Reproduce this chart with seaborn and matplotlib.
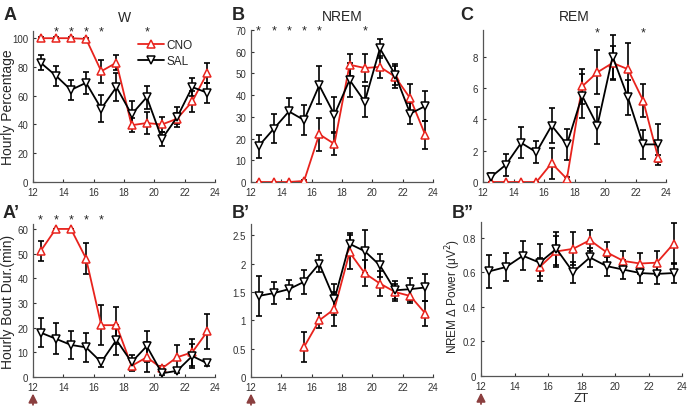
import numpy as np
import pandas as pd
import matplotlib
matplotlib.use('Agg')
import matplotlib.pyplot as plt
import seaborn as sns

zt = [12.5, 13.5, 14.5, 15.5, 16.5, 17.5, 18.5, 19.5, 20.5, 21.5, 22.5, 23.5]
nan = np.nan

# W hourly percentage
w_cno = [100, 100, 100, 99.5, 77, 83, 39.5, 41, 40, 44, 56, 76]
w_cno_err = [0.5, 0.5, 0.5, 0.8, 8, 5, 5, 7.5, 5, 4, 7, 7]
w_sal = [83, 74, 64, 69, 51, 66, 47, 59, 30, 45, 66, 62]
w_sal_err = [5, 7, 7, 7.5, 9.5, 10, 9.5, 8, 5, 7, 6, 7]

# NREM hourly percentage
n_cno = [0, 0, 0, 0.5, 22, 17.5, 54, 52.5, 53, 48.5, 38.5, 21.5]
n_cno_err = [0, 0, 0, 0.3, 7.5, 5, 5, 6.5, 5, 5, 6.5, 6.5]
n_sal = [16.5, 24.5, 32.5, 28.5, 44.5, 31, 47, 37, 61.5, 49.5, 31.5, 35]
n_sal_err = [5.3, 6.7, 6.3, 7, 8.7, 8, 8, 7, 4.5, 5, 5, 7]

# REM hourly percentage
r_cno = [0, 0, 0, 0, 1.2, 0.2, 6.1, 7.0, 7.6, 7.2, 5.2, 1.5]
r_cno_err = [0, 0, 0, 0, 1, 0.1, 1.1, 1.4, 1.1, 1.7, 1.05, 0.2]
r_sal = [0.3, 1.1, 2.5, 1.9, 3.6, 2.4, 5.5, 3.6, 8.0, 5.4, 2.4, 2.4]
r_sal_err = [0.3, 0.7, 1, 0.7, 1.1, 1, 1.4, 1.2, 1.4, 1.1, 0.95, 1.3]

# W bout duration
wb_cno = [51, 60, 60, 48, 21, 21, 4.5, 8, 3.5, 8, 10, 18.5]
wb_cno_err = [4, 0, 0, 6.3, 8, 7.5, 2, 6, 1, 5, 5.5, 7]
wb_sal = [18, 15.5, 13, 12, 6, 15, 6, 12.5, 1.5, 2.5, 8.5, 5.5]
wb_sal_err = [5.8, 6.3, 5.7, 6, 1.8, 6, 2.8, 6.3, 0.5, 1, 5, 1.2]

# NREM bout duration
nb_cno = [nan, nan, nan, 0.53, 1.0, 1.2, 2.2, 1.83, 1.65, 1.5, 1.43, 1.12]
nb_cno_err = [nan, nan, nan, 0.27, 0.13, 0.3, 0.3, 0.23, 0.22, 0.15, 0.13, 0.22]
nb_sal = [1.43, 1.48, 1.55, 1.68, 2.0, 1.37, 2.35, 2.22, 1.97, 1.53, 1.55, 1.58]
nb_sal_err = [0.36, 0.19, 0.17, 0.21, 0.15, 0.27, 0.2, 0.38, 0.2, 0.16, 0.2, 0.23]

# NREM delta power
d_cno = [nan, nan, nan, 0.63, 0.72, 0.735, 0.785, 0.715, 0.665, 0.65, 0.655, 0.765]
d_cno_err = [nan, nan, nan, 0.05, 0.09, 0.095, 0.06, 0.06, 0.055, 0.06, 0.07, 0.12]
d_sal = [0.605, 0.63, 0.695, 0.655, 0.735, 0.6, 0.685, 0.635, 0.615, 0.595, 0.59, 0.595]
d_sal_err = [0.095, 0.08, 0.085, 0.105, 0.095, 0.06, 0.055, 0.055, 0.055, 0.055, 0.06, 0.06]

sns.set_style('ticks')
plt.rcParams['font.family'] = ['Liberation Sans', 'DejaVu Sans']

fig = plt.figure(figsize=(6.88, 4.10), dpi=100)
W, H = 688, 410


def px_axes(left, right, top, bottom):
    return fig.add_axes([left / W, 1 - bottom / H, (right - left) / W, (bottom - top) / H])


def draw(ax, cno, cno_err, sal, sal_err, ylim, yticks, ytl=None, legend=False):
    df = pd.DataFrame({'zt': zt, 'cno': cno, 'cno_err': cno_err,
                       'sal': sal, 'sal_err': sal_err})
    ax.errorbar(df['zt'], df['sal'], yerr=df['sal_err'], fmt='none', ecolor='black',
                elinewidth=1.2, capsize=2.5, capthick=1.2, zorder=2)
    ax.errorbar(df['zt'], df['cno'], yerr=df['cno_err'], fmt='none', ecolor='black',
                elinewidth=1.2, capsize=2.5, capthick=1.2, zorder=2)
    sns.lineplot(data=df, x='zt', y='cno', ax=ax, color='#e8231d', marker='^',
                 markersize=6, markerfacecolor='white', markeredgecolor='#e8231d',
                 markeredgewidth=1.1, linewidth=1.3, label='CNO', zorder=3)
    sns.lineplot(data=df, x='zt', y='sal', ax=ax, color='black', marker='v',
                 markersize=6, markerfacecolor='white', markeredgecolor='black',
                 markeredgewidth=1.1, linewidth=1.3, label='SAL', zorder=4)
    ax.set_xlim(12, 24)
    ax.set_xticks([12, 14, 16, 18, 20, 22, 24])
    ax.set_ylim(*ylim)
    ax.set_yticks(yticks)
    if ytl is not None:
        ax.set_yticklabels(ytl)
    ax.set_xlabel('')
    ax.set_ylabel('')
    ax.tick_params(direction='in', length=2.5, labelsize=7, colors='#333333', width=0.8)
    for s in ['left', 'bottom']:
        ax.spines[s].set_color('#555555')
        ax.spines[s].set_linewidth(0.9)
    sns.despine(ax=ax)
    if legend:
        ax.legend(loc='upper right', bbox_to_anchor=(0.92, 1.0), frameon=False,
                  fontsize=8.5, handlelength=2.2, handletextpad=0.2, borderpad=0.2,
                  labelspacing=0.35)
    else:
        ax.get_legend().remove()


def stars(ax, xs, y):
    for x in xs:
        ax.text(x, y, '*', ha='center', va='center', fontsize=9, clip_on=False)


axA = px_axes(33, 215, 32, 183)
draw(axA, w_cno, w_cno_err, w_sal, w_sal_err, (0, 105), [0, 20, 40, 60, 80, 100], legend=True)
stars(axA, [13.5, 14.5, 15.5, 16.5, 19.5], 105)
axA.set_title('W', fontsize=10, pad=7)
axA.set_ylabel('Hourly Percentage', fontsize=10)
axA.yaxis.set_label_coords(-0.1, 0.5)

axB = px_axes(251, 433, 31, 183)
draw(axB, n_cno, n_cno_err, n_sal, n_sal_err, (0, 70), [0, 10, 20, 30, 40, 50, 60, 70])
stars(axB, [12.5, 13.5, 14.5, 15.5, 16.5, 19.5], 70)
axB.set_title('NREM', fontsize=10, pad=7)

axC = px_axes(483, 666, 31, 183)
draw(axC, r_cno, r_cno_err, r_sal, r_sal_err, (0, 9.7), [0, 2, 4, 6, 8])
stars(axC, [19.5, 22.5], 9.55)
axC.set_title('REM', fontsize=10, pad=7)

axA2 = px_axes(33, 215, 225, 378)
draw(axA2, wb_cno, wb_cno_err, wb_sal, wb_sal_err, (0, 62), [0, 10, 20, 30, 40, 50, 60])
stars(axA2, [12.5, 13.5, 14.5, 15.5, 16.5], 64)
axA2.set_ylabel('Hourly Bout Dur.(min)', fontsize=10)
axA2.yaxis.set_label_coords(-0.1, 0.5)

axB2 = px_axes(251, 433, 225, 378)
draw(axB2, nb_cno, nb_cno_err, nb_sal, nb_sal_err, (0, 2.7), [0, 0.5, 1, 1.5, 2, 2.5],
     ['0', '0.5', '1', '1.5', '2', '2.5'])

axB3 = px_axes(481, 682, 223, 377)
draw(axB3, d_cno, d_cno_err, d_sal, d_sal_err, (0, 0.89), [0, 0.2, 0.4, 0.6, 0.8],
     ['0', '0.2', '0.4', '0.6', '0.8'])
axB3.set_ylabel('NREM \u0394 Power (\u03bcV$^2$)', fontsize=8.5)
axB3.yaxis.set_label_coords(-0.09, 0.52)
axB3.set_xlabel('ZT', fontsize=9, labelpad=1)

# panel letters
for txt, x, y in [('A', 4, 16), ('B', 232, 16), ('C', 460, 16),
                  ("A\u2019", 3, 214), ("B\u2019", 232, 214), ("B\u201d", 452, 214)]:
    fig.text(x / W, 1 - y / H, txt, fontsize=13, fontweight='bold', va='center', ha='left')

# injection arrows
for ax in [axA2, axB2, axB3]:
    ax.annotate('', xy=(12, -0.09), xycoords=('data', 'axes fraction'),
                xytext=(12, -0.2), textcoords=('data', 'axes fraction'),
                arrowprops=dict(arrowstyle='-|>', color='#8b3f3f', lw=1.3,
                                mutation_scale=13), annotation_clip=False)

fig.savefig('out.png', dpi=100)
